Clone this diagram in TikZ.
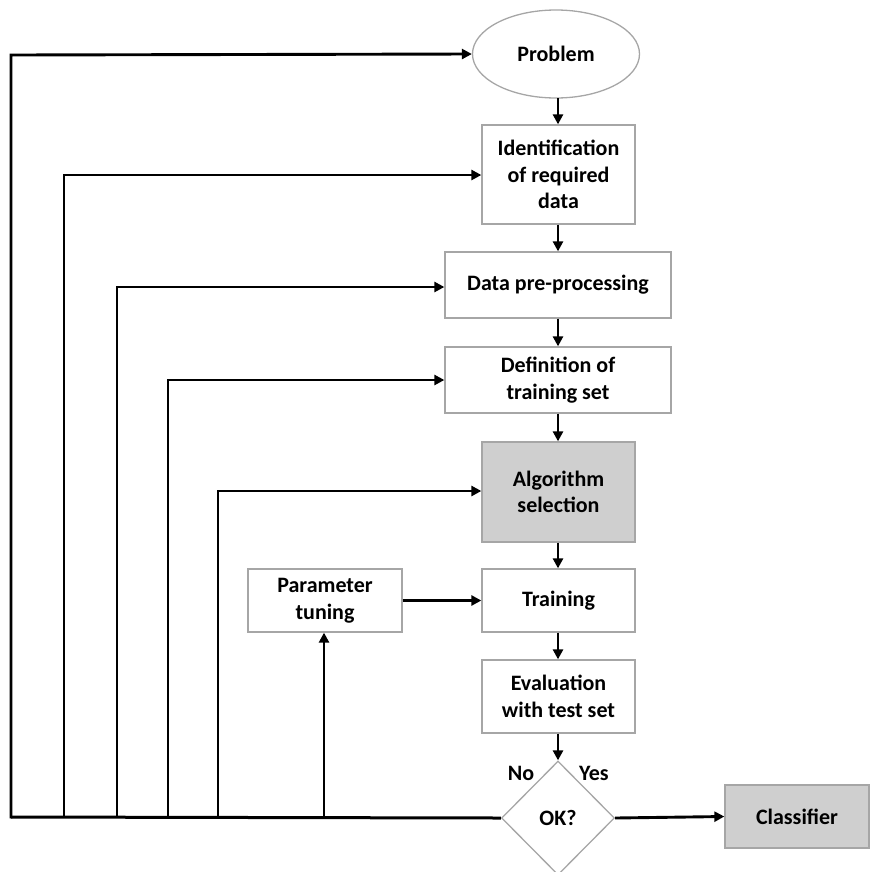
\documentclass[tikz,border=0pt]{standalone}
\usepackage{fontspec}
\setmainfont{Carlito}
\usetikzlibrary{shapes.geometric,arrows.meta}
\begin{document}
\begin{tikzpicture}[x=1pt,y=-1pt,
  every node/.style={font=\bfseries\fontsize{22}{26.5}\selectfont, align=center, inner sep=0pt},
  stepbox/.style={draw=black!35, line width=1.3pt, rectangle, fill=white},
  graybox/.style={stepbox, fill=black!19},
  flow/.style={line width=2.9pt, -{Triangle[length=10pt,width=10pt]}},
  loopline/.style={line width=3pt},
]
\useasboundingbox (0,0) rectangle (872,871);

% main sequence of steps
\node[ellipse, draw=black!35, line width=1.3pt, minimum width=167pt, minimum height=88pt] (prob) at (556,54) {Problem};
\node[stepbox, minimum width=153pt, minimum height=99pt] (ident) at (558.5,174.5) {Identification\\of required\\data};
\node[stepbox, minimum width=226pt, minimum height=66pt] (prep) at (558,285) {Data pre-processing};
\node[stepbox, minimum width=226pt, minimum height=66pt] (def) at (558,380) {Definition of\\training set};
\node[graybox, minimum width=153pt, minimum height=100pt] (algo) at (558.5,492) {Algorithm\\selection};
\node[stepbox, minimum width=153pt, minimum height=63pt] (train) at (558.5,600.5) {Training};
\node[stepbox, minimum width=154pt, minimum height=63pt] (param) at (325,600.5) {Parameter\\tuning};
\node[stepbox, minimum width=153pt, minimum height=73pt] (eval) at (558.5,696.5) {Evaluation\\with test set};
\node[diamond, draw=black!35, line width=1.3pt, fill=white, minimum width=113pt, minimum height=114pt, aspect=1] (ok) at (558,818) {OK?};
\node[graybox, minimum width=144pt, minimum height=63pt] (cls) at (797,816.5) {Classifier};

\node (no) at (521,773) {No};
\node (yes) at (594,773) {Yes};

% downward flow
\draw[flow] (558,98) -- (ident.north -| 558,0);
\draw[flow] (ident.south -| 558,0) -- (prep.north -| 558,0);
\draw[flow] (prep.south -| 558,0) -- (def.north -| 558,0);
\draw[flow] (def.south -| 558,0) -- (algo.north -| 558,0);
\draw[flow] (algo.south -| 558,0) -- (train.north -| 558,0);
\draw[flow] (train.south -| 558,0) -- (eval.north -| 558,0);
\draw[flow] (eval.south -| 558,0) -- (ok.north);
\draw[flow] (ok.east) -- (cls.west);
\draw[flow] (param.east) -- (train.west);

% feedback from the decision back to every step
\coordinate (b0) at (11,817);
\coordinate (b1) at (64,817);
\coordinate (b2) at (117,817);
\coordinate (b3) at (168,817);
\coordinate (b4) at (218,817);
\coordinate (b5) at (324,817);
\draw[loopline] (ok.west) -- (b0);
\draw[flow, line cap=rect] (b0) -- (11,55) -- (prob.west);
\draw[flow] (b1) -- (64,175) -- (ident.west |- 0,175);
\draw[flow] (b2) -- (117,287) -- (prep.west |- 0,287);
\draw[flow] (b3) -- (168,380) -- (def.west |- 0,380);
\draw[flow] (b4) -- (218,491) -- (algo.west |- 0,491);
\draw[flow] (b5) -- (param.south -| b5);
\end{tikzpicture}
\end{document}
